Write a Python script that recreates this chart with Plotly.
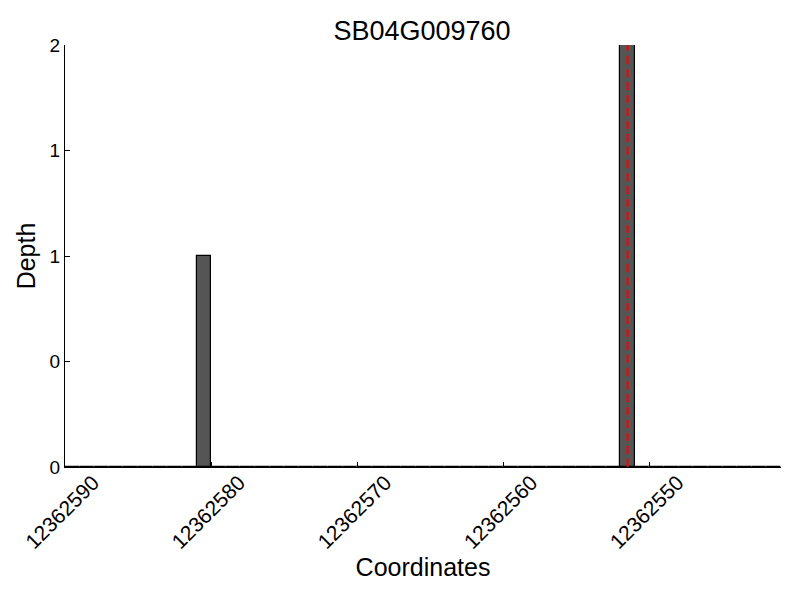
import plotly.graph_objects as go

# Posições (início de cada bin) e profundidade
coords = [
    12362541, 12362542, 12362543, 12362544, 12362545, 12362546, 12362547,
    12362548, 12362549, 12362550, 12362551, 12362552, 12362553, 12362554,
    12362555, 12362556, 12362557, 12362558, 12362559, 12362560, 12362561,
    12362562, 12362563, 12362564, 12362565, 12362566, 12362567, 12362568,
    12362569, 12362570, 12362571, 12362572, 12362573, 12362574, 12362575,
    12362576, 12362577, 12362578, 12362579, 12362580, 12362581, 12362582,
    12362583, 12362584, 12362585, 12362586, 12362587, 12362588, 12362589,
]
depth = [
    0, 0, 0, 0, 0, 0, 0,
    0, 0, 0, 2, 0, 0, 0,
    0, 0, 0, 0, 0, 0, 0,
    0, 0, 0, 0, 0, 0, 0,
    0, 0, 0, 0, 0, 0, 0,
    0, 0, 0, 0, 1, 0, 0,
    0, 0, 0, 0, 0, 0, 0,
]
marker_pos = 12362551.5
x_ticks = [12362590, 12362580, 12362570, 12362560, 12362550]
y_ticks = [0, 0.5, 1, 1.5, 2]
y_labels = ['0', '0', '1', '1', '2']

font = 'Liberation Sans, Arial, sans-serif'

fig = go.Figure()
fig.add_trace(go.Bar(
    x=coords, y=depth, width=1, offset=0,
    marker=dict(color='#555555', line=dict(color='black', width=1.2)),
    showlegend=False,
))
fig.add_trace(go.Scatter(
    x=[marker_pos, marker_pos], y=[0, 2], mode='lines',
    line=dict(color='#ff0000', width=2, dash='8px,5px'), showlegend=False,
))

# a página tem 8px de margem no body, por isso as margens estão compensadas
fig.update_layout(
    width=800, height=600,
    margin=dict(l=57, r=27, t=37, b=141),
    plot_bgcolor='white', paper_bgcolor='white',
    font=dict(family=font, color='black'),
    title=dict(text='SB04G009760', x=0.5175, xanchor='center', y=0.963, yanchor='middle',
               font=dict(size=27)),
    bargap=0,
)
fig.update_xaxes(
    range=[12362590, 12362541], tickvals=x_ticks, ticktext=[str(t) for t in x_ticks],
    tickangle=-45, tickfont=dict(size=21), ticks='inside', ticklen=5, tickcolor='black',
    ticklabelshift=-28, ticklabelstandoff=-6,
    showline=True, linecolor='black', linewidth=1, showgrid=False, zeroline=False,
    automargin=False,
    title=dict(text='Coordinates', font=dict(size=25), standoff=0),
)
fig.update_yaxes(
    range=[0, 2], tickvals=y_ticks, ticktext=y_labels, tickfont=dict(size=19),
    ticks='inside', ticklen=5, tickcolor='black',
    showline=True, linecolor='black', linewidth=1, showgrid=False, zeroline=False,
    automargin=False,
    title=dict(text='Depth', font=dict(size=25), standoff=6),
)

fig.write_html("out.html")
